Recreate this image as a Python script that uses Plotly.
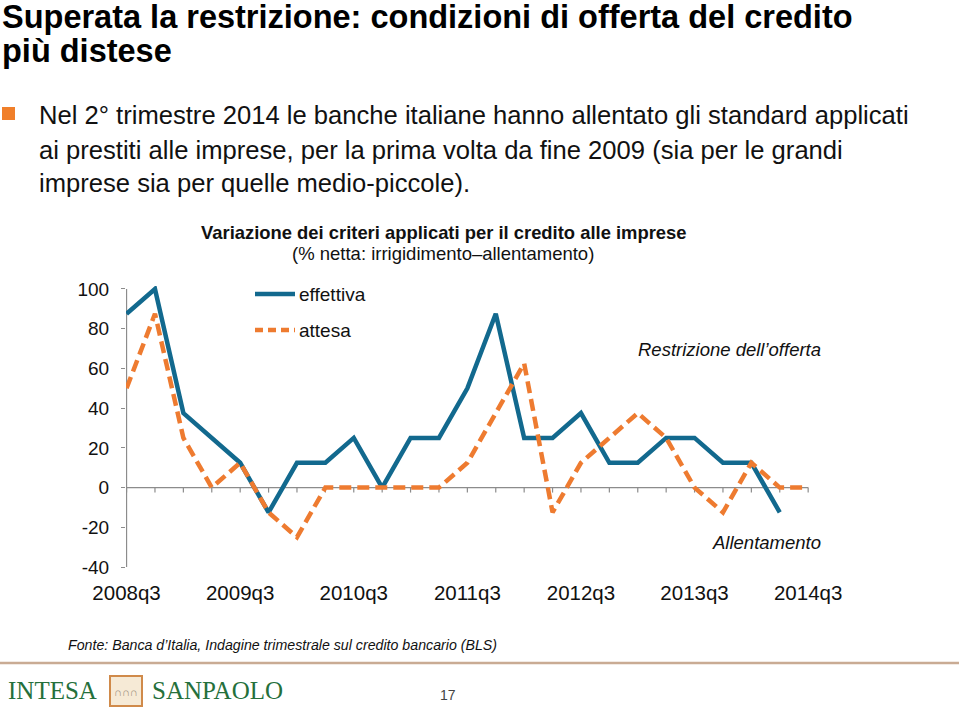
import plotly.graph_objects as go

# ---------------- data ----------------
quarters = ["2008q3", "2008q4", "2009q1", "2009q2", "2009q3", "2009q4",
            "2010q1", "2010q2", "2010q3", "2010q4", "2011q1", "2011q2",
            "2011q3", "2011q4", "2012q1", "2012q2", "2012q3", "2012q4",
            "2013q1", "2013q2", "2013q3", "2013q4", "2014q1", "2014q2",
            "2014q3"]
effettiva = [87.5, 100, 37.5, 25, 12.5, -12.5, 12.5, 12.5, 25, 0, 25, 25,
             50, 87.5, 25, 25, 37.5, 12.5, 12.5, 25, 25, 12.5, 12.5, -12.5]
attesa = [50, 87.5, 25, 0, 12.5, -12.5, -25, 0, 0, 0, 0, 0,
          12.5, 37.5, 62.5, -12.5, 12.5, 25, 37.5, 25, 0, -12.5, 12.5, 0, 0]
y_ticks = [-40, -20, 0, 20, 40, 60, 80, 100]
y_tick_text = ["-40", "-20", "0", "20", "40", "60", "80", "100"]
x_tick_labels = ["2008q3", "2009q3", "2010q3", "2011q3", "2012q3", "2013q3", "2014q3"]

# ---------------- layout geometry ----------------
W_FIG, H_FIG = 959, 707
ML, MR, MT, MB = 126, 148, 286, 137
PW = W_FIG - ML - MR
PH = H_FIG - MT - MB

def px(x, y):
    return (x - ML) / PW, (H_FIG - MB - y) / PH

BLUE = "#12698e"
ORANGE = "#ee7b30"
AXIS = "#8c8c8c"
FONT = "Liberation Sans"

fig = go.Figure()
fig.add_trace(go.Scatter(x=quarters[:len(effettiva)], y=effettiva, mode="lines",
                         name="effettiva", line=dict(color=BLUE, width=4.5),
                         showlegend=False))
fig.add_trace(go.Scatter(x=quarters[:len(attesa)], y=attesa, mode="lines",
                         name="attesa", line=dict(color=ORANGE, width=4.5, dash="12px,6px"),
                         showlegend=False))

shapes = []
# axis lines
shapes.append(dict(type="line", xref="x", yref="y", x0=0, x1=0,
                   y0=min(y_ticks), y1=max(y_ticks), line=dict(color=AXIS, width=1.2),
                   layer="below"))
shapes.append(dict(type="line", xref="x", yref="y", x0=0, x1=len(quarters) - 1,
                   y0=0, y1=0, line=dict(color=AXIS, width=1.2), layer="below"))
for i in range(len(quarters)):
    shapes.append(dict(type="line", xref="x", yref="y", ysizemode="pixel", yanchor=0,
                       x0=i, x1=i, y0=0, y1=-5, line=dict(color=AXIS, width=1.2),
                       layer="below"))

# legend samples
for (lx0, ly, col, dash) in [(255, 294, BLUE, "solid"), (255, 330, ORANGE, "8px,5px")]:
    a0 = px(lx0, ly)
    a1 = px(lx0 + 40, ly)
    shapes.append(dict(type="line", xref="paper", yref="paper", x0=a0[0], x1=a1[0],
                       y0=a0[1], y1=a1[1], line=dict(color=col, width=4.5, dash=dash)))

# bullet square
b0 = px(2, 107)
b1 = px(15, 120)
shapes.append(dict(type="rect", xref="paper", yref="paper", x0=b0[0], x1=b1[0],
                   y0=b1[1], y1=b0[1], fillcolor="#f07f2a", line=dict(width=0)))
# footer rule
r0 = px(0, 663)
r1 = px(959, 663)
shapes.append(dict(type="line", xref="paper", yref="paper", x0=r0[0], x1=r1[0],
                   y0=r0[1], y1=r1[1], line=dict(color="#c9ab94", width=2.5)))
# logo box
k0 = px(110, 676)
k1 = px(142, 706)
shapes.append(dict(type="rect", xref="paper", yref="paper", x0=k0[0], x1=k1[0],
                   y0=k1[1], y1=k0[1], fillcolor="#f6ead6",
                   line=dict(color="#d08a4a", width=2)))

annotations = []

def text(x, y, s, size, xanchor="left", bold=False, italic=False, color="#111111",
         family=FONT):
    ax, ay = px(x, y)
    if bold:
        s = "<b>" + s + "</b>"
    if italic:
        s = "<i>" + s + "</i>"
    annotations.append(dict(x=ax, y=ay, xref="paper", yref="paper", text=s,
                            showarrow=False, xanchor=xanchor, yanchor="middle",
                            font=dict(size=size, color=color, family=family)))

text(0, 17, "Superata la restrizione: condizioni di offerta del credito", 32.5, bold=True,
     color="#000000")
text(0, 51, "più distese", 32.5, bold=True, color="#000000")
text(37, 115, "Nel 2° trimestre 2014 le banche italiane hanno allentato gli standard applicati", 25.6)
text(37, 150, "ai prestiti alle imprese, per la prima volta da fine 2009 (sia per le grandi", 25.6)
text(37, 183, "imprese sia per quelle medio-piccole).", 25.6)

text(444, 232, "Variazione dei criteri applicati per il credito alle imprese", 18.4, xanchor="center",
     bold=True)
text(443, 254, "(% netta: irrigidimento–allentamento)", 18.5, xanchor="center")

text(297, 294, "effettiva", 19)
text(297, 330, "attesa", 19)
text(823, 349, "Restrizione dell’offerta", 18.5, xanchor="right", italic=True)
text(823, 542, "Allentamento", 18.5, xanchor="right", italic=True)

text(66, 645, "Fonte: Banca d’Italia, Indagine trimestrale sul credito bancario (BLS)", 14.2,
     italic=True)
text(6, 690, "INTESA", 25, color="#25703b", family="Liberation Serif")
text(150, 690, "SANPAOLO", 25, color="#25703b", family="Liberation Serif")
text(126, 692, "∩∩∩", 11, xanchor="center", color="#9a8a78")
text(448, 695, "17", 14, xanchor="center", color="#444444")

fig.update_layout(
    width=W_FIG, height=H_FIG,
    margin=dict(l=ML, r=MR, t=MT, b=MB),
    paper_bgcolor="white", plot_bgcolor="white",
    font=dict(family=FONT, color="#111111"),
    xaxis=dict(type="category", categoryarray=quarters, range=[-0.02, len(quarters) - 0.9],
               tickmode="array", tickvals=x_tick_labels, ticktext=x_tick_labels,
               showgrid=False, zeroline=False, showline=False, ticks="",
               tickfont=dict(size=20.5, color="#111111"), ticklabelstandoff=8),
    yaxis=dict(range=[-41.5, 101.5], tickmode="array", tickvals=y_ticks,
               ticktext=y_tick_text,
               showgrid=False, zeroline=False, showline=False, ticks="outside",
               ticklen=4, tickcolor=AXIS, tickwidth=1.2,
               tickfont=dict(size=19, color="#111111"), ticklabelstandoff=8),
    shapes=shapes,
    annotations=annotations,
)

fig.write_html("out.html", config={"displayModeBar": False},
               post_script="document.body.style.margin='0px';document.body.style.overflow='hidden';")
